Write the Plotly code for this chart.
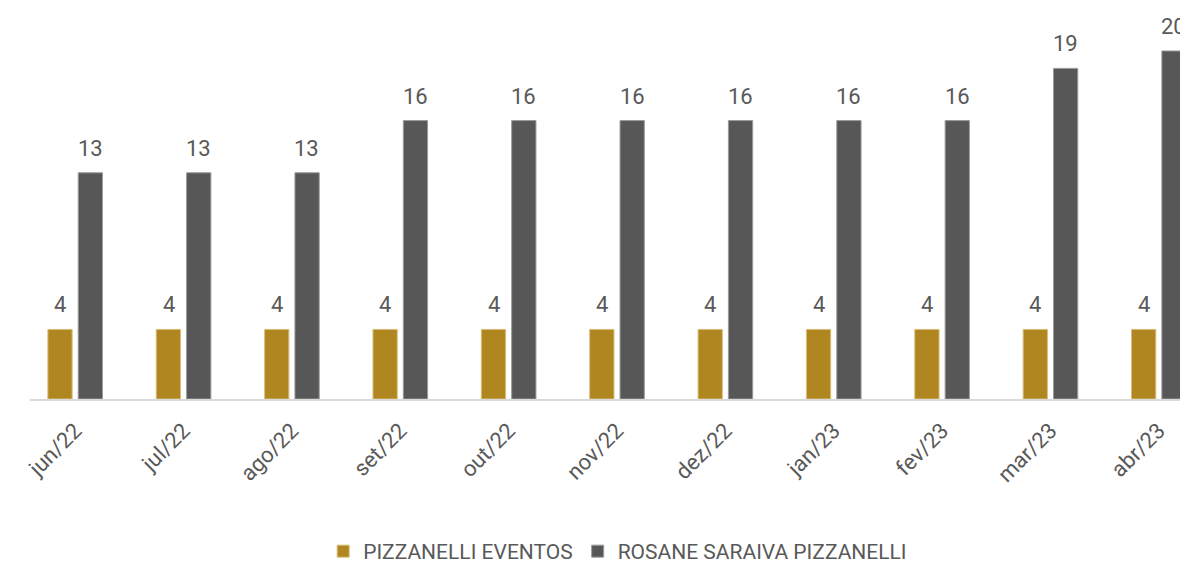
import plotly.graph_objects as go

meses = ["jun/22", "jul/22", "ago/22", "set/22", "out/22", "nov/22",
         "dez/22", "jan/23", "fev/23", "mar/23", "abr/23"]
pizzanelli_eventos = [4, 4, 4, 4, 4, 4, 4, 4, 4, 4, 4]
rosane_saraiva = [13, 13, 13, 16, 16, 16, 16, 16, 16, 19, 20]

GOLD = "#B08620"
GRAY = "#575757"
TXT = "#595959"

fig = go.Figure()
fig.add_trace(go.Bar(
    x=meses, y=pizzanelli_eventos, name="PIZZANELLI EVENTOS",
    marker=dict(color=GOLD, line=dict(color="#D9BE7A", width=1)),
))
fig.add_trace(go.Bar(
    x=meses, y=rosane_saraiva, name="ROSANE SARAIVA PIZZANELLI",
    marker=dict(color=GRAY, line=dict(color="#9A9A9A", width=1)),
))

# value labels above each bar
for serie, shift in ((pizzanelli_eventos, -15), (rosane_saraiva, 15)):
    for m, v in zip(meses, serie):
        fig.add_annotation(
            x=m, y=v, text=str(v), showarrow=False,
            xshift=shift, yshift=10, yanchor="bottom",
            font=dict(family="Roboto", size=22, color=TXT),
        )

fig.update_layout(
    width=1188, height=564,
    margin=dict(l=22, r=0, t=0, b=166),
    plot_bgcolor="white", paper_bgcolor="white",
    barmode="group", bargap=0.44, bargroupgap=0.2,
    font=dict(family="Roboto", color=TXT),
    showlegend=True,
    legend=dict(
        orientation="h", x=0.504, xanchor="center", y=-0.39, yanchor="middle",
        font=dict(family="Roboto", size=21, color=TXT),
        itemwidth=30, traceorder="normal",
    ),
    xaxis=dict(
        range=[-0.417, 10.343], tickangle=-45, showgrid=False,
        showline=True, linecolor="#D9D9D9", linewidth=2,
        ticks="outside", ticklen=8, tickcolor="white",
        tickfont=dict(family="Roboto", size=22, color=TXT),
    ),
    yaxis=dict(range=[0, 22.47], visible=False, showgrid=False),
)

fig.write_html("out.html")
